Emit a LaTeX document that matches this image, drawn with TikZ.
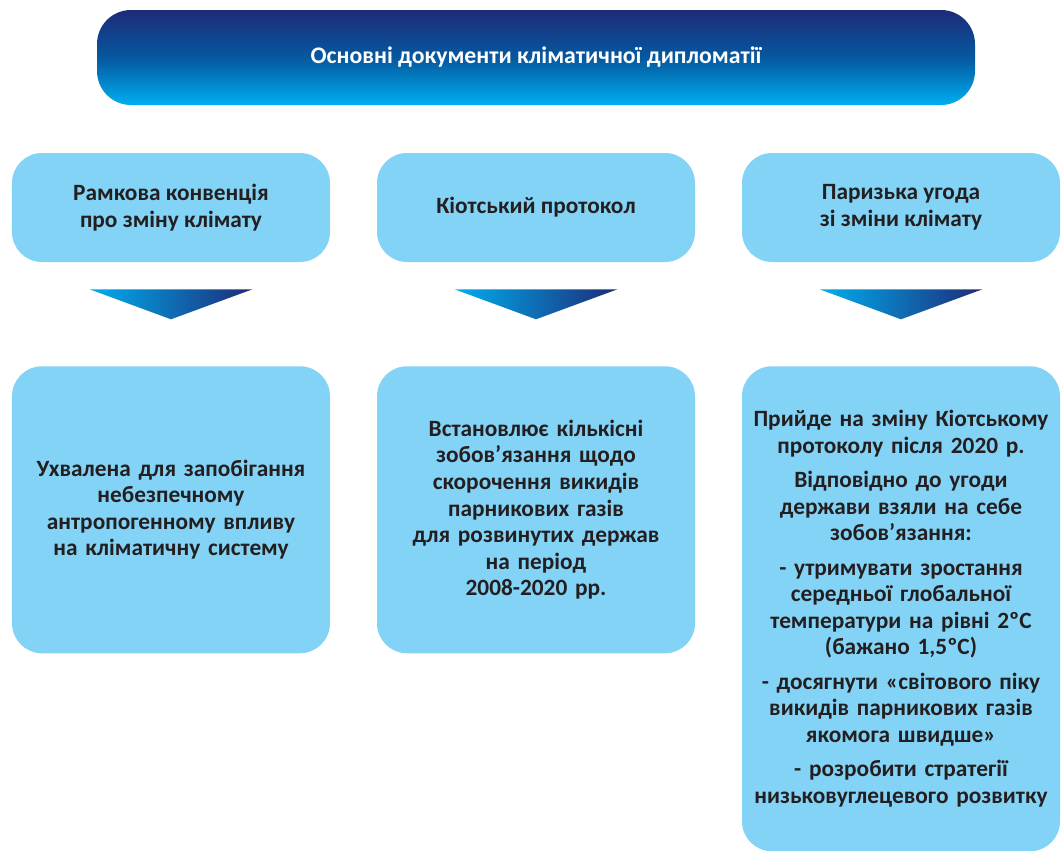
\documentclass[tikz,border=0pt]{standalone}
\usepackage{fontspec}
\setmainfont{Carlito}
\usepackage{xcolor}
\usepackage{tikz}
\usetikzlibrary{shapes.geometric, positioning, calc}

\definecolor{boxblue}{HTML}{83D3F6}
\definecolor{navy}{HTML}{1E2B78}
\definecolor{midblue}{HTML}{05589F}
\definecolor{cyanblue}{HTML}{00AEEF}
\definecolor{textdark}{HTML}{231F20}

\tikzset{
    titlebox/.style={rectangle, rounded corners=0.85cm, minimum width=21.95cm, minimum height=2.375cm,
        top color=navy, bottom color=cyanblue, middle color=midblue, text=white,
        font=\fontsize{16.9}{19}\selectfont\bfseries},
    docbox/.style={rectangle, rounded corners=0.75cm, fill=boxblue, minimum width=7.95cm, minimum height=2.725cm,
        text=textdark, align=center, font=\fontsize{16.6}{18.9}\selectfont\bfseries},
    infobox/.style={docbox, anchor=north, inner xsep=0pt, text width=7.95cm},
    pointer/.style={left color=cyanblue, right color=navy}
}

\begin{document}
\begin{tikzpicture}
    \useasboundingbox (0,0) rectangle (26.525,-21.275);

    % Title
    \node[titlebox] (title) at (13.4,-1.4375) {Основні документи кліматичної дипломатії};

    % Documents
    \node[docbox] (unfccc) at (4.275,-5.1875) {Рамкова конвенція\\про зміну клімату};
    \node[docbox] (kyoto) at (13.4,-5.1875) {Кіотський протокол};
    \node[docbox] (paris) at (22.525,-5.1875) {Паризька угода\\зі зміни клімату};

    % Pointers
    \foreach \doc in {unfccc, kyoto, paris}
        \shade[pointer] ($(\doc.south)+(-2.0375,-0.675)$) -- ($(\doc.south)+(2.0375,-0.675)$)
            -- ($(\doc.south)+(0,-1.425)$) -- cycle;

    % Descriptions
    \node[infobox, minimum height=7.175cm] (unfcccinfo) at (4.275,-9.15)
        {Ухвалена для запобігання\\небезпечному\\антропогенному впливу\\на кліматичну систему};
    \node[infobox, minimum height=7.175cm] (kyotoinfo) at (13.4,-9.15)
        {Встановлює кількісні\\зобов’язання щодо\\скорочення викидів\\парникових газів\\для розвинутих держав\\на період\\2008-2020 рр.};
    \node[infobox, minimum height=12.125cm] (parisinfo) at (22.525,-9.15)
        {Прийде на зміну Кіотському\\протоколу після 2020 р.\\[5.5pt]
         Відповідно до угоди\\держави взяли на себе\\зобов’язання:\\[5.5pt]
         - утримувати зростання\\середньої глобальної\\температури на рівні 2ºС\\(бажано 1,5ºС)\\[5.5pt]
         - досягнути «світового піку\\викидів парникових газів\\якомога швидше»\\[5.5pt]
         - розробити стратегії\\низьковуглецевого розвитку};
\end{tikzpicture}
\end{document}
